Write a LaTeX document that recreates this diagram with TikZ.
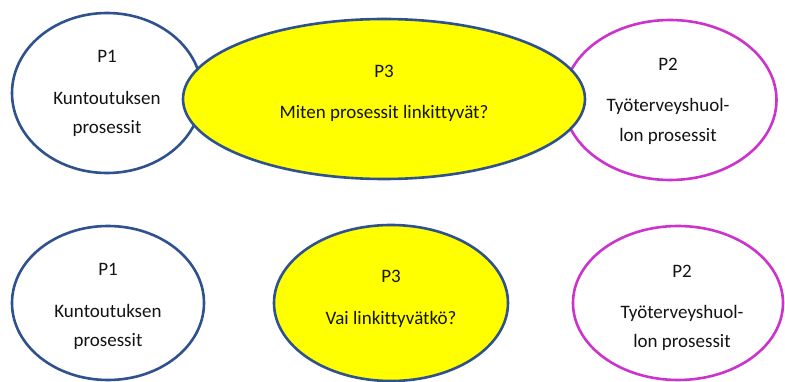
\documentclass[tikz,border=0pt]{standalone}
\usepackage{fontspec}
\setmainfont[Ligatures=CommonOff]{Carlito}
\usetikzlibrary{shapes.geometric}
\definecolor{obl}{HTML}{2F528F}
\definecolor{opu}{HTML}{CC33CC}
\definecolor{oye}{HTML}{FFFF00}
\tikzset{
  oval/.style={ellipse, draw, line width=2.6pt, inner sep=0pt, fill=white},
  blueoval/.style={oval, draw=obl},
  purpleoval/.style={oval, draw=opu},
  yellowoval/.style={oval, draw=obl, fill=oye},
  lbl/.style={anchor=base, font=\fontsize{19}{22}\selectfont, inner sep=0pt, text=black!92}
}
\begin{document}
\begin{tikzpicture}[x=1pt,y=-1pt]
\useasboundingbox (0,0) rectangle (785,382);
% top row
\node[blueoval, minimum width=190pt, minimum height=160pt] (t1) at (107,93) {};
\node[purpleoval, minimum width=213pt, minimum height=160pt] (t2) at (670,100) {};
\node[yellowoval, minimum width=402pt, minimum height=160pt] (t3) at (384,99) {};
\node[lbl] (t1a) at (107,63) {P1};
\node[lbl] (t1b) at (107,105) {Kuntoutuksen};
\node[lbl] (t1c) at (107,134) {prosessit};
\node[lbl] (t3a) at (384,78) {P3};
\node[lbl] (t3b) at (384,119) {Miten prosessit linkittyvät?};
\node[lbl] (t2a) at (668,71) {P2};
\node[lbl] (t2b) at (668,112) {Työterveyshuol-};
\node[lbl] (t2c) at (668,142) {lon prosessit};
% bottom row
\node[blueoval, minimum width=192pt, minimum height=154pt] (b1) at (108,303) {};
\node[yellowoval, minimum width=234pt, minimum height=156pt] (b3) at (391,303) {};
\node[purpleoval, minimum width=210pt, minimum height=154pt] (b2) at (678,303) {};
\node[lbl] (b1a) at (108,276) {P1};
\node[lbl] (b1b) at (108,318) {Kuntoutuksen};
\node[lbl] (b1c) at (108,346) {prosessit};
\node[lbl] (b3a) at (391,283) {P3};
\node[lbl] (b3b) at (391,324) {Vai linkittyvätkö?};
\node[lbl] (b2a) at (682,278) {P2};
\node[lbl] (b2b) at (682,319) {Työterveyshuol-};
\node[lbl] (b2c) at (682,348) {lon prosessit};
\end{tikzpicture}
\end{document}
